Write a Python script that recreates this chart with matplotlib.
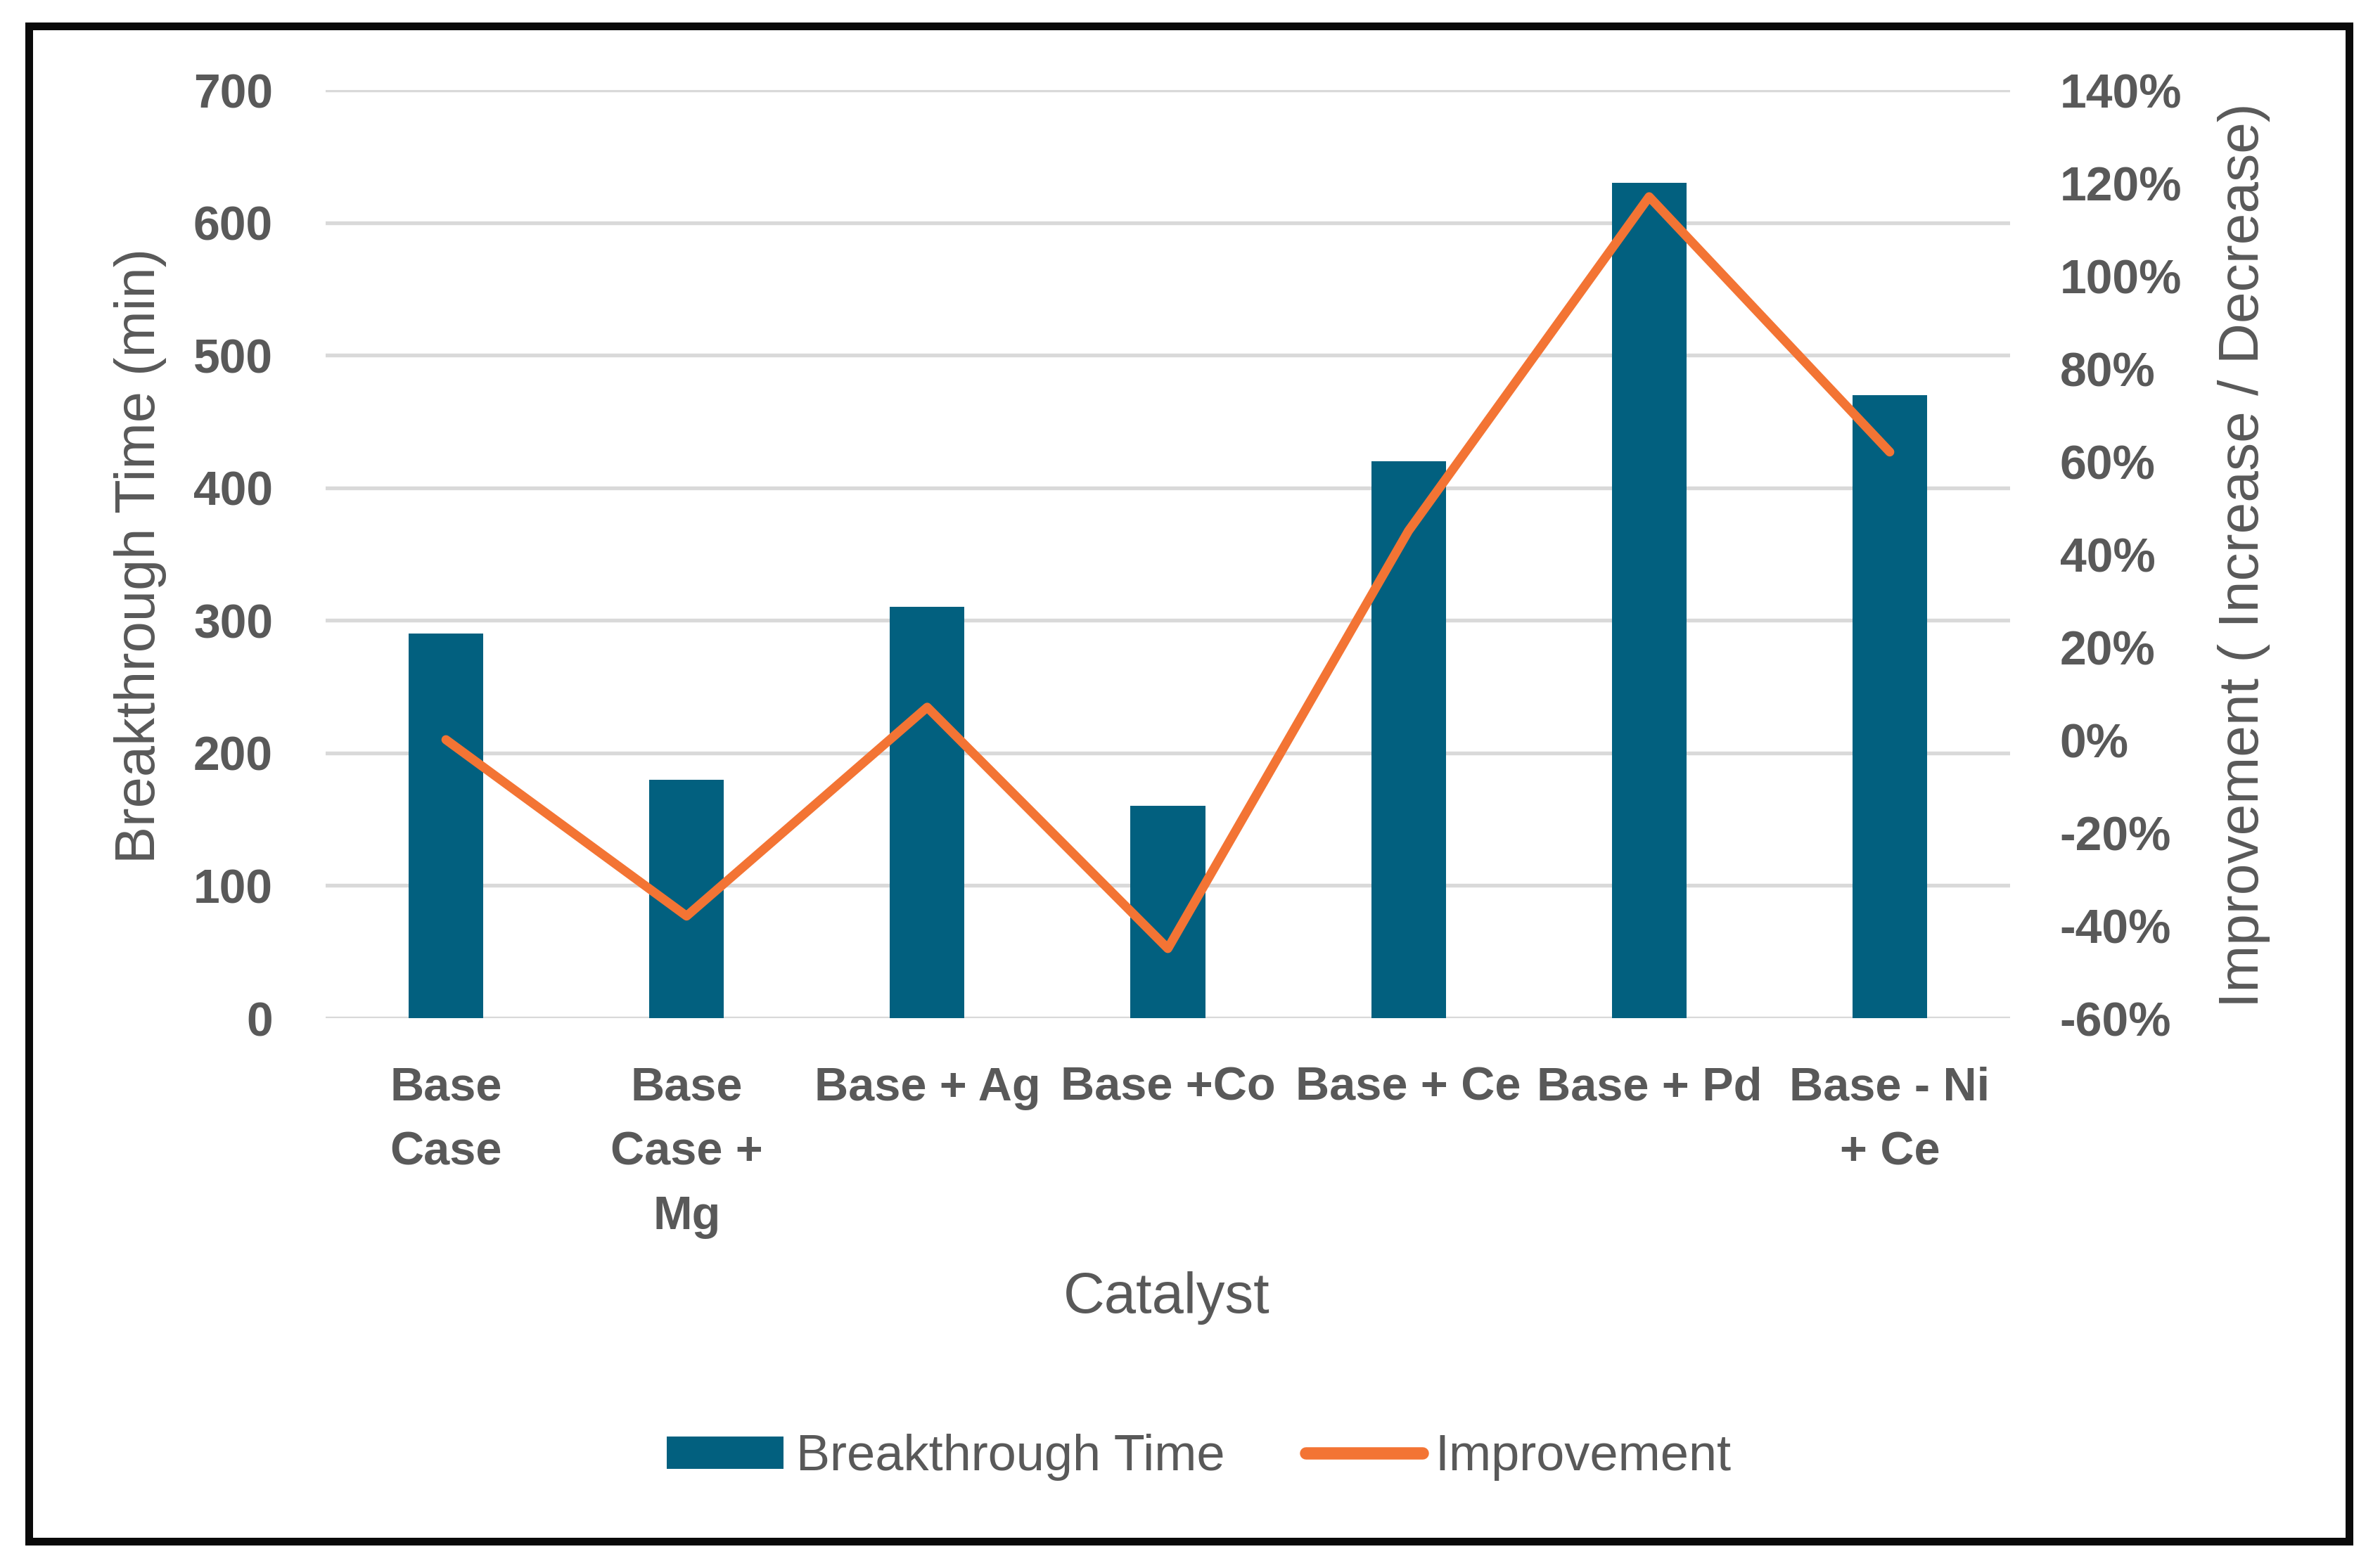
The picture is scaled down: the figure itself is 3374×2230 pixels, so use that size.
import matplotlib
matplotlib.use("Agg")
import matplotlib.pyplot as plt
from matplotlib.patches import Rectangle, Patch
from matplotlib.lines import Line2D
import numpy as np

categories = ["Base\nCase", "Base\nCase +\nMg", "Base + Ag", "Base +Co",
              "Base + Ce", "Base + Pd", "Base - Ni\n+ Ce"]
breakthrough_time = [290, 180, 310, 160, 420, 630, 470]
improvement_pct = [0, -38, 7, -45, 45, 117, 62]
left_ticks = [0, 100, 200, 300, 400, 500, 600, 700]
right_ticks = [-60, -40, -20, 0, 20, 40, 60, 80, 100, 120, 140]

BAR = "#02607F"
ORANGE = "#F37434"
TXT = "#595959"
GRID = "#D9D9D9"
SANS = ["Liberation Sans", "DejaVu Sans"]

W, H, DPI = 3374, 2230, 300
fig = plt.figure(figsize=(W / DPI, H / DPI), dpi=DPI)
fig.patch.set_facecolor("white")

L, R, T, B = 463 / W, 2858 / W, 1 - 128 / H, 1 - 1448 / H
ax = fig.add_axes([L, B, R - L, T - B])
ax2 = ax.twinx()

x = np.arange(len(categories))
ax.bar(x, breakthrough_time, width=0.31, color=BAR, zorder=2)
ax.set_ylim(0, 700)
ax.set_xlim(-0.5, len(categories) - 0.5)
ax.set_yticks(left_ticks)
ax.set_yticklabels([str(v) for v in left_ticks])
ax.yaxis.grid(True, color=GRID, lw=1.3, zorder=0)
ax.set_axisbelow(True)
for s in ax.spines.values():
    s.set_visible(False)
ax.tick_params(axis="both", length=0)
ax.tick_params(axis="y", pad=18)
for lab in ax.get_yticklabels():
    lab.set_fontfamily(SANS)
    lab.set_fontweight("bold")
    lab.set_fontsize(16.3)
    lab.set_color(TXT)
ax.set_xticks(x)
ax.set_xticklabels(categories, fontfamily=SANS, fontweight="bold",
                   fontsize=16, color=TXT, linespacing=1.62)
ax.tick_params(axis="x", pad=16.5)

ax2.plot(x, improvement_pct, color=ORANGE, lw=3.1, solid_joinstyle="round",
         solid_capstyle="round", zorder=3)
ax2.set_ylim(-60, 140)
ax2.set_yticks(right_ticks)
ax2.set_yticklabels([f"{v}%" for v in right_ticks])
for s in ax2.spines.values():
    s.set_visible(False)
ax2.tick_params(axis="y", length=0, pad=17)
for lab in ax2.get_yticklabels():
    lab.set_fontfamily(SANS)
    lab.set_fontweight("bold")
    lab.set_fontsize(16.3)
    lab.set_color(TXT)

ycen = 1 - 790 / H
fig.text(200 / W, ycen, "Breakthrough Time (min)", rotation=90, ha="center",
         va="center", fontfamily=SANS, fontsize=19.1, color=TXT)
fig.text(3191 / W, ycen, "Improvement ( Increase / Decrease)", rotation=90,
         ha="center", va="center", fontfamily=SANS, fontsize=19.3, color=TXT)
fig.text(1659 / W, 1 - 1846 / H, "Catalyst", ha="center", va="center",
         fontfamily=SANS, fontsize=19.5, color=TXT)

handles = [Patch(facecolor=BAR, edgecolor="none"),
           Line2D([], [], color=ORANGE, lw=4.2, solid_capstyle="round")]
leg = fig.legend(handles, ["Breakthrough Time", "Improvement"],
                 loc="center", bbox_to_anchor=(1705 / W, 1 - 2073 / H),
                 ncol=2, frameon=False, handlelength=2.3, handleheight=0.6,
                 handletextpad=0.25, columnspacing=1.6,
                 prop={"family": SANS, "size": 17.3})
for t in leg.get_texts():
    t.set_color(TXT)

fig.patches.append(Rectangle((40.5 / W, 1 - 2192 / H), (3340 - 40.5) / W,
                             (2192 - 36.5) / H, transform=fig.transFigure,
                             fill=False, edgecolor="#0A0A0A", lw=2.64))

fig.savefig("out.png", dpi=DPI, facecolor="white")
